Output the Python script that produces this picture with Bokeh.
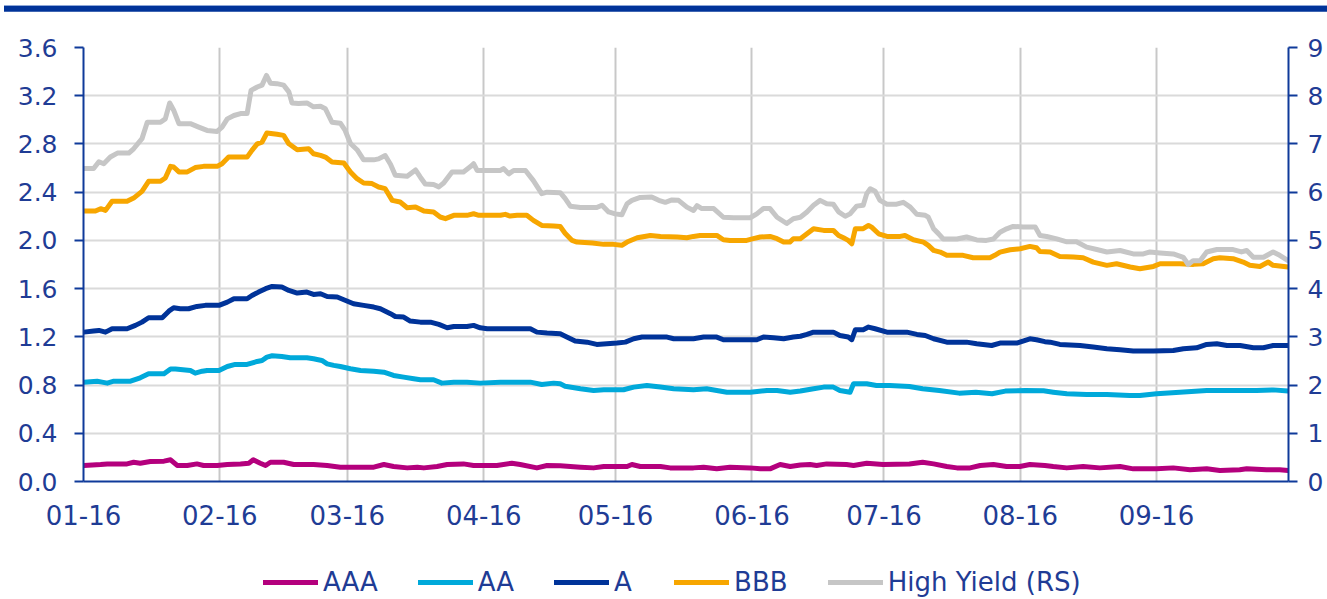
import pandas as pd
from bokeh.plotting import figure
from bokeh.layouts import column
from bokeh.models import (Range1d, LinearAxis, FixedTicker, PrintfTickFormatter,
                          DatetimeTickFormatter, Legend, LegendItem, Div)
from bokeh.embed import file_html
from bokeh.resources import INLINE

# ---------------- data ----------------
START_DATE = "2016-01-01"
END_DATE = "2016-10-01"
MONTH_TICKS = ["2016-01-01", "2016-02-01", "2016-03-01", "2016-04-01", "2016-05-01",
               "2016-06-01", "2016-07-01", "2016-08-01", "2016-09-01"]
LEFT_TICKS = [0.0, 0.4, 0.8, 1.2, 1.6, 2.0, 2.4, 2.8, 3.2, 3.6]
RIGHT_TICKS = [0, 1, 2, 3, 4, 5, 6, 7, 8, 9]
SERIES_NAMES = ["AAA", "AA", "A", "BBB", "High Yield (RS)"]

# days since 2016-01-01 and values
HY_DAY = [0.1, 2.3, 3.5, 4.6, 6.1, 7.7, 10.3, 11.4, 13.3, 14.5, 17.5, 18.6, 19.6, 20.5, 21.7,
          24.3, 26.2, 28.1, 30.4, 31.5, 32.7, 34.2, 35.7, 37.2, 38.1, 39.5, 40.6, 41.6, 42.5,
          44.0, 45.5, 46.7, 47.4, 48.9, 50.8, 52.3, 53.9, 55.0, 56.5, 58.4, 59.5, 60.7, 62.2,
          63.7, 66.0, 67.1, 68.6, 69.8, 70.9, 73.6, 75.5, 76.6, 77.7, 79.6, 80.8, 81.9, 83.8,
          86.4, 88.0, 88.7, 89.5, 91.0, 94.8, 95.5, 96.7, 97.8, 100.5, 102.3, 104.2, 105.4,
          108.4, 109.5, 110.7, 113.0, 116.7, 117.9, 119.4, 120.9, 122.4, 123.6, 124.7, 126.6,
          129.2, 130.8, 132.3, 133.8, 135.3, 137.2, 138.7, 139.5, 140.6, 143.3, 145.5, 147.8,
          151.6, 153.1, 154.6, 156.1, 157.7, 159.9, 161.4, 163.0, 164.5, 166.0, 167.5, 169.0,
          170.5, 171.7, 173.2, 174.3, 175.8, 177.3, 178.1, 178.9, 180.0, 181.1, 182.7, 184.9,
          186.4, 188.0, 189.5, 191.4, 192.1, 193.3, 194.4, 195.5, 198.6, 200.8, 203.1, 205.3,
          206.9, 208.4, 209.9, 211.4, 213.7, 216.4, 217.5, 219.0, 221.3, 223.6, 225.8, 228.1,
          230.4, 232.7, 235.7, 238.7, 241.0, 242.5, 244.8, 247.8, 250.1, 251.2, 252.3, 253.9,
          255.4, 257.7, 261.4, 263.3, 264.5, 266.0, 268.3, 270.5, 272.0, 273.9]
HY_VAL = [6.49, 6.49, 6.63, 6.59, 6.73, 6.81, 6.81, 6.90, 7.11, 7.45, 7.45, 7.52, 7.85, 7.70, 7.42,
          7.42, 7.35, 7.28, 7.26, 7.35, 7.52, 7.59, 7.63, 7.63, 8.11, 8.18, 8.22, 8.42, 8.26,
          8.25, 8.22, 8.08, 7.85, 7.84, 7.85, 7.77, 7.78, 7.73, 7.45, 7.43, 7.28, 7.01, 6.88,
          6.67, 6.67, 6.69, 6.76, 6.58, 6.35, 6.33, 6.46, 6.31, 6.17, 6.16, 6.11, 6.19, 6.42,
          6.42, 6.53, 6.59, 6.45, 6.45, 6.45, 6.49, 6.38, 6.45, 6.45, 6.24, 5.97, 6.00,
          5.99, 5.87, 5.71, 5.68, 5.68, 5.73, 5.59, 5.55, 5.53, 5.76, 5.83, 5.89,
          5.90, 5.83, 5.79, 5.84, 5.83, 5.69, 5.62, 5.72, 5.66, 5.66, 5.48, 5.47,
          5.47, 5.55, 5.66, 5.66, 5.48, 5.35, 5.45, 5.48, 5.59, 5.73, 5.83, 5.76,
          5.75, 5.59, 5.50, 5.55, 5.71, 5.73, 5.97, 6.07, 6.02, 5.83, 5.75, 5.75,
          5.79, 5.69, 5.54, 5.52, 5.48, 5.24, 5.14, 5.03, 5.03, 5.07, 5.01, 5.00,
          5.03, 5.17, 5.24, 5.29, 5.28, 5.28, 5.10, 5.08, 5.03, 4.97, 4.97, 4.86,
          4.81, 4.76, 4.79, 4.72, 4.72, 4.76, 4.74, 4.72, 4.65, 4.50, 4.58, 4.58,
          4.76, 4.81, 4.81, 4.76, 4.79, 4.65, 4.65, 4.76, 4.69, 4.58]

BBB_DAY = [0.1, 2.7, 3.9, 5.0, 6.5, 9.9, 11.4, 13.3, 14.8, 17.5, 18.6, 19.8, 20.5, 21.7, 23.6,
           25.4, 27.3, 30.4, 31.5, 33.0, 37.2, 38.3, 39.5, 40.6, 41.7, 44.0, 45.5, 46.7, 48.6,
           51.2, 52.3, 53.9, 55.0, 56.5, 59.2, 60.7, 62.2, 63.7, 65.6, 67.1, 68.6, 70.2, 72.0,
           73.6, 75.5, 77.4, 79.6, 81.1, 82.3, 84.2, 87.2, 88.7, 89.9, 94.8, 95.9, 97.0, 98.6,
           100.8, 102.3, 104.2, 106.9, 108.4, 109.5, 111.1, 112.2, 115.7, 118.3, 120.5, 122.4,
           123.6, 125.9, 128.9, 131.2, 135.0, 137.2, 138.7, 140.2, 144.0, 145.5, 147.0, 150.8,
           152.3, 153.9, 156.1, 157.7, 159.2, 160.6, 161.4, 163.0, 164.5, 166.0, 168.3, 170.5,
           171.7, 172.8, 173.9, 174.7, 175.5, 177.3, 178.5, 179.2, 180.8, 182.7, 185.7, 186.8,
           188.7, 191.0, 192.1, 193.3, 194.8, 196.3, 200.0, 202.3, 206.1, 207.2, 208.4, 210.7,
           213.0, 215.2, 216.7, 217.5, 219.8, 222.0, 225.1, 227.3, 229.6, 232.7, 234.9, 238.0,
           240.2, 243.3, 244.8, 249.3, 252.4, 254.6, 256.9, 258.4, 261.4, 263.7, 265.2, 267.5,
           269.4, 270.5, 273.9]
BBB_VAL = [2.243, 2.243, 2.263, 2.249, 2.324, 2.324, 2.351, 2.407, 2.490, 2.490, 2.518, 2.614,
           2.609, 2.568, 2.568, 2.604, 2.614, 2.614, 2.636, 2.691, 2.691, 2.747, 2.801, 2.815,
           2.891, 2.880, 2.871, 2.801, 2.752, 2.760, 2.719, 2.705, 2.691, 2.650, 2.642, 2.568,
           2.512, 2.476, 2.471, 2.443, 2.429, 2.332, 2.318, 2.271, 2.277, 2.243, 2.235, 2.194,
           2.180, 2.208, 2.208, 2.221, 2.208, 2.208, 2.216, 2.202, 2.208, 2.208, 2.166, 2.124,
           2.119, 2.115, 2.060, 2.000, 1.986, 1.978, 1.967, 1.967, 1.959, 1.986, 2.022, 2.041,
           2.033, 2.028, 2.022, 2.033, 2.041, 2.041, 2.005, 2.000, 2.000, 2.014, 2.028, 2.033,
           2.014, 1.986, 1.986, 2.014, 2.014, 2.055, 2.097, 2.083, 2.083, 2.041, 2.022, 2.000,
           1.972, 2.097, 2.097, 2.124, 2.110, 2.055, 2.033, 2.033, 2.041, 2.005, 1.986, 1.959,
           1.917, 1.903, 1.876, 1.876, 1.856, 1.856, 1.876, 1.903, 1.922, 1.931, 1.950, 1.939,
           1.907, 1.903, 1.867, 1.862, 1.856, 1.820, 1.793, 1.806, 1.779, 1.765, 1.784, 1.806,
           1.806, 1.801, 1.806, 1.848, 1.856, 1.848, 1.820, 1.793, 1.784, 1.820, 1.793, 1.779]

A_DAY = [0.1, 2.3, 3.5, 5.0, 6.5, 9.9, 11.8, 13.3, 14.8, 17.9, 19.4, 20.5, 22.0, 23.9, 25.8,
         27.7, 30.8, 32.7, 34.2, 37.2, 38.3, 39.8, 41.4, 42.9, 45.1, 46.7, 48.6, 50.8, 52.3,
         53.9, 55.4, 57.7, 59.2, 61.4, 63.7, 66.0, 67.5, 69.8, 70.9, 72.8, 74.3, 76.6, 78.9,
         80.8, 82.7, 84.2, 87.2, 88.7, 90.2, 91.8, 101.6, 103.1, 105.4, 108.4, 109.9, 111.8,
         114.5, 116.7, 119.0, 121.3, 123.2, 125.1, 127.0, 132.7, 134.2, 138.7, 141.0, 144.0,
         145.5, 153.1, 154.6, 156.9, 159.2, 161.4, 163.0, 164.5, 166.0, 170.5, 172.0, 173.9,
         174.7, 175.5, 177.3, 178.5, 180.0, 182.7, 187.2, 189.5, 191.4, 193.3, 196.3, 200.8,
         203.1, 206.5, 208.4, 212.2, 215.2, 216.7, 218.6, 219.8, 222.0, 226.6, 229.6, 232.7,
         235.7, 238.7, 243.3, 247.8, 250.1, 253.1, 255.4, 257.7, 260.0, 263.0, 266.0, 268.3,
         270.5, 273.9]
A_VAL = [1.239, 1.248, 1.253, 1.239, 1.267, 1.267, 1.295, 1.322, 1.358, 1.358, 1.413, 1.441,
         1.433, 1.433, 1.452, 1.461, 1.461, 1.488, 1.516, 1.516, 1.543, 1.571, 1.599, 1.618,
         1.613, 1.585, 1.563, 1.571, 1.552, 1.557, 1.535, 1.530, 1.508, 1.474, 1.461, 1.447,
         1.433, 1.392, 1.369, 1.364, 1.331, 1.322, 1.322, 1.303, 1.275, 1.286, 1.286, 1.295,
         1.275, 1.267, 1.267, 1.239, 1.231, 1.225, 1.198, 1.165, 1.156, 1.137, 1.142, 1.148,
         1.156, 1.184, 1.198, 1.198, 1.184, 1.184, 1.198, 1.198, 1.176, 1.176, 1.198, 1.192,
         1.184, 1.198, 1.205, 1.220, 1.239, 1.239, 1.211, 1.198, 1.176, 1.259, 1.259, 1.281,
         1.267, 1.239, 1.239, 1.220, 1.211, 1.184, 1.156, 1.156, 1.142, 1.128, 1.148, 1.148,
         1.184, 1.176, 1.160, 1.156, 1.137, 1.128, 1.115, 1.101, 1.092, 1.082, 1.082, 1.087,
         1.101, 1.109, 1.137, 1.142, 1.128, 1.128, 1.109, 1.109, 1.128, 1.128]

AA_DAY = [0.1, 3.1, 4.2, 5.4, 6.9, 10.7, 12.9, 14.8, 18.3, 19.8, 20.9, 24.3, 25.4, 27.0, 28.1,
          30.8, 32.7, 34.5, 37.2, 39.5, 40.6, 41.7, 42.9, 45.1, 47.0, 50.8, 52.3, 54.2, 55.4,
          56.9, 58.4, 60.7, 63.0, 66.0, 68.3, 70.5, 72.8, 75.1, 76.6, 79.6, 81.5, 84.2, 87.2,
          90.2, 94.8, 101.6, 104.2, 106.9, 108.4, 109.5, 113.0, 116.0, 118.3, 122.8, 125.1,
          128.1, 131.2, 134.2, 138.7, 141.7, 146.3, 151.6, 155.4, 157.7, 160.7, 163.0, 166.0,
          168.3, 170.5, 172.0, 174.3, 175.1, 178.1, 180.3, 183.3, 187.8, 190.8, 194.6, 199.1,
          202.9, 206.6, 209.6, 214.2, 218.3, 220.5, 223.6, 228.1, 232.7, 237.9, 240.2, 244.0,
          249.3, 255.4, 266.7, 270.5, 273.9]
AA_VAL = [0.824, 0.832, 0.824, 0.816, 0.832, 0.832, 0.860, 0.893, 0.893, 0.934, 0.934, 0.921,
          0.899, 0.915, 0.921, 0.921, 0.954, 0.971, 0.971, 0.996, 1.004, 1.032, 1.043, 1.037,
          1.026, 1.026, 1.018, 1.004, 0.976, 0.963, 0.954, 0.935, 0.921, 0.915, 0.907, 0.880,
          0.866, 0.852, 0.844, 0.844, 0.816, 0.824, 0.824, 0.816, 0.824, 0.824, 0.805, 0.816,
          0.810, 0.790, 0.769, 0.755, 0.761, 0.761, 0.783, 0.797, 0.783, 0.769, 0.761, 0.769,
          0.741, 0.741, 0.755, 0.755, 0.741, 0.750, 0.769, 0.783, 0.783, 0.755, 0.741, 0.811,
          0.811, 0.797, 0.797, 0.788, 0.769, 0.755, 0.733, 0.741, 0.728, 0.750, 0.755, 0.752,
          0.741, 0.728, 0.722, 0.722, 0.714, 0.714, 0.728, 0.741, 0.755, 0.755, 0.760, 0.750]

AAA_DAY = [0.1, 3.9, 5.4, 9.9, 11.4, 12.9, 15.2, 18.3, 19.8, 21.3, 23.6, 25.8, 27.3, 30.4,
           32.7, 35.7, 37.6, 38.6, 40.2, 41.4, 42.5, 45.5, 47.8, 52.3, 55.4, 58.4, 66.0, 68.3,
           70.5, 73.6, 75.9, 77.4, 80.4, 82.7, 86.4, 88.7, 94.0, 97.4, 99.3, 103.1, 105.4,
           108.4, 113.0, 116.0, 118.3, 123.6, 124.7, 126.6, 131.2, 133.4, 138.7, 141.0, 144.0,
           147.0, 151.6, 153.9, 156.1, 158.4, 160.7, 163.0, 165.2, 166.7, 169.0, 173.5, 175.1,
           178.1, 181.8, 187.8, 190.8, 193.3, 196.3, 198.6, 201.6, 203.9, 206.9, 209.9, 212.9,
           215.2, 218.6, 220.5, 223.6, 227.3, 231.1, 235.7, 238.7, 244.0, 247.8, 251.6, 255.4,
           258.4, 262.9, 264.5, 269.0, 272.0, 273.9]
AAA_VAL = [0.133, 0.141, 0.146, 0.146, 0.160, 0.152, 0.166, 0.169, 0.180, 0.133, 0.133, 0.146,
           0.133, 0.133, 0.141, 0.146, 0.152, 0.180, 0.152, 0.133, 0.160, 0.160, 0.141, 0.141,
           0.133, 0.119, 0.119, 0.141, 0.124, 0.113, 0.119, 0.113, 0.124, 0.141, 0.146, 0.133,
           0.133, 0.152, 0.141, 0.113, 0.133, 0.130, 0.119, 0.113, 0.124, 0.124, 0.141, 0.124,
           0.124, 0.113, 0.113, 0.119, 0.105, 0.119, 0.113, 0.105, 0.105, 0.141, 0.124, 0.137,
           0.141, 0.133, 0.146, 0.141, 0.133, 0.152, 0.141, 0.146, 0.160, 0.146, 0.124, 0.113,
           0.113, 0.133, 0.141, 0.124, 0.124, 0.141, 0.133, 0.124, 0.113, 0.124, 0.113, 0.124,
           0.105, 0.105, 0.113, 0.097, 0.105, 0.091, 0.097, 0.105, 0.097, 0.097, 0.091]

# ---------------- styling ----------------
TEXT_COLOR = "#1F3C95"
AXIS_COLOR = "#0F3A9A"
FONT = "DejaVu Sans"
COLORS = {"AAA": "#B4007D", "AA": "#00A9DA", "A": "#003399", "BBB": "#F7A600",
          "High Yield (RS)": "#C6C6C6"}
LINE_W = 5

start = pd.Timestamp(START_DATE)


def to_dates(days):
    return [start + pd.Timedelta(days=float(d)) for d in days]


def ms(d):
    return pd.Timestamp(d).value / 1e6


BAND_H = 11
MAIN_H = 525
LEG_H = 599 - BAND_H - MAIN_H

# ---------------- main chart ----------------
p = figure(width=1327, height=MAIN_H, x_axis_type="datetime",
           x_range=Range1d(ms(START_DATE), ms(END_DATE)),
           y_range=Range1d(LEFT_TICKS[0], LEFT_TICKS[-1]),
           output_backend="svg", toolbar_location=None,
           min_border_left=83, min_border_right=39, min_border_top=47 - BAND_H,
           min_border_bottom=55,
           background_fill_color="white", border_fill_color="white")
p.outline_line_color = None
p.extra_y_ranges = {"hy": Range1d(RIGHT_TICKS[0], RIGHT_TICKS[-1])}

p.xgrid.ticker = FixedTicker(ticks=[ms(d) for d in MONTH_TICKS])
p.xgrid.grid_line_color = "#C8C8C8"
p.xgrid.grid_line_width = 2
p.ygrid.ticker = FixedTicker(ticks=LEFT_TICKS)
p.ygrid.grid_line_color = "#DADADA"
p.ygrid.grid_line_width = 2


def style_axis(ax):
    ax.axis_line_color = AXIS_COLOR
    ax.axis_line_width = 2
    ax.major_tick_line_color = AXIS_COLOR
    ax.major_tick_line_width = 2
    ax.minor_tick_line_color = None
    ax.major_label_text_color = TEXT_COLOR
    ax.major_label_text_font = FONT
    ax.major_label_text_font_size = "25px"


xax = p.xaxis[0]
style_axis(xax)
xax.ticker = FixedTicker(ticks=[ms(d) for d in MONTH_TICKS])
fmt = "%m-%y"
xax.formatter = DatetimeTickFormatter(microseconds=fmt, milliseconds=fmt, seconds=fmt,
                                      minsec=fmt, minutes=fmt, hourmin=fmt, hours=fmt,
                                      days=fmt, months=fmt, years=fmt)
xax.major_tick_out = 0
xax.major_tick_in = 0
xax.major_label_standoff = 23
xax.major_label_text_font_size = "26px"

yax = p.yaxis[0]
style_axis(yax)
yax.ticker = FixedTicker(ticks=LEFT_TICKS)
yax.formatter = PrintfTickFormatter(format="%.1f")
yax.major_tick_out = 9
yax.major_tick_in = 0
yax.major_label_standoff = 17

rax = LinearAxis(y_range_name="hy", ticker=FixedTicker(ticks=RIGHT_TICKS),
                 formatter=PrintfTickFormatter(format="%d"))
style_axis(rax)
rax.major_tick_out = 9
rax.major_tick_in = 0
rax.major_label_standoff = 10
p.add_layout(rax, "right")

series = [("AAA", AAA_DAY, AAA_VAL, "default"), ("AA", AA_DAY, AA_VAL, "default"),
          ("A", A_DAY, A_VAL, "default"), ("BBB", BBB_DAY, BBB_VAL, "default"),
          ("High Yield (RS)", HY_DAY, HY_VAL, "hy")]
for name, days, vals, rng in series:
    p.line(to_dates(days), vals, line_color=COLORS[name], line_width=LINE_W,
           line_join="round", line_cap="round", y_range_name=rng)

# ---------------- legend strip (own small figure below the chart) ----------------
# the strip's view window lies far away from the data, so its lines only feed the legend
lg = figure(width=1327, height=LEG_H, x_range=Range1d(0, 1), y_range=Range1d(-1, 0),
            output_backend="svg", toolbar_location=None,
            x_axis_location=None, y_axis_location=None,
            min_border_left=0, min_border_right=0, min_border_top=0, min_border_bottom=0,
            background_fill_color="white", border_fill_color="white")
lg.outline_line_color = None
lg.grid.visible = False
leg_renderers = {}
for name, days, vals, rng in series:
    leg_renderers[name] = lg.line(to_dates(days), vals, line_color=COLORS[name],
                                  line_width=LINE_W, line_cap="round")
legend = Legend(items=[LegendItem(label=n, renderers=[leg_renderers[n]]) for n in SERIES_NAMES],
                orientation="horizontal", location=(180, 2),
                label_text_font=FONT, label_text_font_size="26px",
                label_text_color=TEXT_COLOR, glyph_width=55, glyph_height=20,
                label_standoff=5, spacing=40, padding=0, margin=0,
                border_line_color=None, background_fill_alpha=0)
lg.add_layout(legend, "center")

# ---------------- header band across the top of the page ----------------
band = Div(text='<div style="margin:4px 0 0 4px;width:1323px;height:7px;'
                'background:#003399;border-top:1px solid #8FA8D8;box-sizing:border-box;"></div>',
           width=1327, height=BAND_H, margin=(0, 0, 0, 0))

layout = column(band, p, lg, spacing=0)
open("out.html", "w").write(file_html(layout, INLINE))
